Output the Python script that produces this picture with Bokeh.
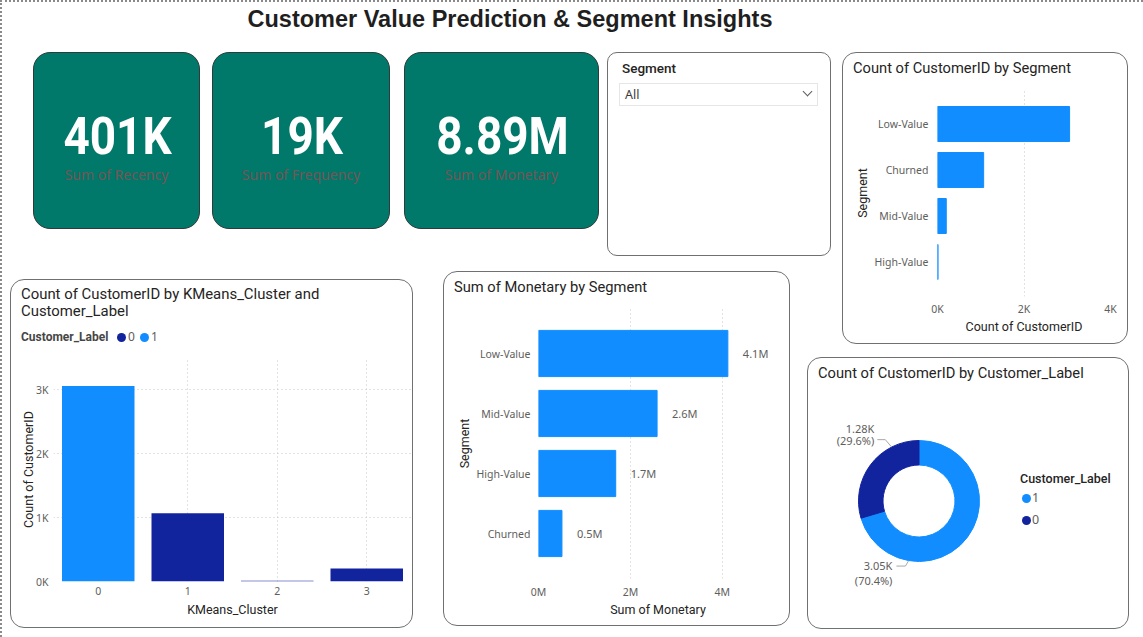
import math
from bokeh.plotting import figure
from bokeh.models import (ColumnDataSource, FactorRange, Range1d, FixedTicker, Div,
                          CustomJSTickFormatter)
from bokeh.layouts import column
from bokeh.embed import file_html
from bokeh.resources import INLINE
from bokeh.core.properties import value

# ---------------- data ----------------
page_title = "Customer Value Prediction & Segment Insights"
kpi_values = ["401K", "19K", "8.89M"]
kpi_labels = ["Sum of Recency", "Sum of Frequency", "Sum of Monetary"]

seg_count_segments = ["Low-Value", "Churned", "Mid-Value", "High-Value"]
seg_count_values = [3054, 1067, 203, 13]
count_ticks = [0, 2000, 4000]

mon_segments = ["Low-Value", "Mid-Value", "High-Value", "Churned"]
mon_values = [4.12e6, 2.58e6, 1.68e6, 0.51e6]
mon_ticks = [0, 2e6, 4e6]

km_clusters = ["0", "1", "2", "3"]
km_label0 = [0, 1067, 13, 203]
km_label1 = [3054, 0, 0, 0]
km_ticks = [0, 1000, 2000, 3000]
km_legend = ["0", "1"]

donut_labels = ["1", "0"]
donut_counts = [3054, 1283]

slicer_field = "Segment"
slicer_value = "All"

# ---------------- styles ----------------
LIGHT = "#118DFF"
DARK = "#12239E"
TEAL = "#00786A"
INK = "#252423"
GRAY = "#605E5C"
GRID = "#C8C6C4"
PANEL_BORDER = "#707070"
F_DIN = "Roboto"
F_UI = "Noto Sans"
F_HEAD = "Liberation Sans"
# all figures share the same side borders (column layouts align plot frames)
BL, BR = 110, 20

children = []


def pos(model, x, y, w, h):
    model.styles = {"position": "absolute", "left": f"{x}px", "top": f"{y}px",
                    "width": f"{w}px", "height": f"{h}px"}
    return model


def box(x, y, w, h, css):
    d = Div(text="", width=w, height=h, margin=0)
    st = {"position": "absolute", "left": f"{x}px", "top": f"{y}px",
          "width": f"{w}px", "height": f"{h}px", "box-sizing": "border-box"}
    st.update(css)
    d.styles = st
    children.append(d)
    return d


def txt(x, yc, s, size, family=F_DIN, weight=400, color=INK, w=320, h=20,
        align="left", extra=""):
    if align == "center":
        left = x - w / 2
    elif align == "right":
        left = x - w
    else:
        left = x
    html = (f'<div style="width:{w}px;font-family:\'{family}\';font-size:{size}px;'
            f'font-weight:{weight};color:{color};line-height:{h}px;height:{h}px;'
            f'white-space:nowrap;text-align:{align};{extra}">{s}</div>')
    d = Div(text=html, width=w, height=h, margin=0)
    d.styles = {"position": "absolute", "left": f"{left}px", "top": f"{yc - h / 2}px",
                "width": f"{w}px", "height": f"{h}px"}
    children.append(d)
    return d


def style_axes(p):
    for ax in p.axis:
        ax.axis_line_color = None
        ax.major_tick_line_color = None
        ax.minor_tick_line_color = None
        ax.major_label_text_font = F_UI
        ax.major_label_text_font_size = "10.5px"
        ax.major_label_text_color = GRAY
        ax.axis_label_text_font = F_DIN
        ax.axis_label_text_font_size = "12.5px"
        ax.axis_label_text_font_style = "normal"
        ax.axis_label_text_color = INK
    p.outline_line_color = None
    p.border_fill_color = None
    p.background_fill_color = None


def panel(x, y, w, h, r=14):
    box(x, y, w, h, {"border": f"1px solid {PANEL_BORDER}", "border-radius": f"{r}px",
                     "background": "white"})


def make_fig(frame_x0, frame_x1, host_y, host_h, top, bottom, **kw):
    w = (frame_x1 - frame_x0) + BL + BR
    p = figure(width=w, height=host_h, output_backend="svg", toolbar_location=None,
               min_border_left=BL, min_border_right=BR, min_border_top=top,
               min_border_bottom=bottom, **kw)
    pos(p, frame_x0 - BL, host_y, w, host_h)
    return p


# ---------------- page frame & title ----------------
box(0, 0, 1143, 640, {"border-top": "2px dotted #8a8a8a", "border-left": "2px dotted #8a8a8a"})
txt(510, 19, page_title, 23.5, family=F_HEAD, weight=700, color="#1f1f1f", w=800, h=30,
    align="center")

# ---------------- KPI cards ----------------
cards = [(33, 52, 167, 177), (212, 52, 178, 177), (404, 52, 195, 177)]
for (cx, cy, cw, ch), v, lab in zip(cards, kpi_values, kpi_labels):
    box(cx, cy, cw, ch, {"background": TEAL, "border": "1px solid #2f3b39",
                         "border-radius": "17px"})
    txt(cx + cw / 2 + 1, cy + 85, v, 51, family=F_DIN, weight=700, color="white",
        w=cw, h=56, align="center",
        extra="transform:scaleX(0.9);transform-origin:50% 50%;")
    txt(cx + cw / 2, cy + 123, lab, 14, family=F_UI, weight=400, color="#735656",
        w=cw, h=20, align="center")

# ---------------- slicer ----------------
panel(607, 52, 224, 204, r=10)
txt(622, 68, slicer_field, 13.5, family=F_DIN, weight=500, color=INK)
box(619, 83, 199, 23, {"border": "1px solid #E6E6E6", "background": "white"})
txt(625, 94.5, slicer_value, 12.5, family=F_UI, weight=400, color="#3b3a39")
box(804, 88, 7, 7, {"border-right": "1px solid #605E5C", "border-bottom": "1px solid #605E5C",
                    "transform": "rotate(45deg)"})

# ---------------- panels (backgrounds) ----------------
panel(842, 52, 286, 292)
panel(10, 279, 403, 349)
panel(443, 271, 347, 355)
panel(807, 357, 322, 272)

# ---------------- Count of CustomerID by Segment ----------------
src1 = ColumnDataSource(dict(seg=seg_count_segments, val=seg_count_values))
p1 = make_fig(937, 1110, 52, 292, 37, 48,
              y_range=FactorRange(factors=seg_count_segments[::-1], range_padding=0.25,
                                  range_padding_units="absolute"),
              x_range=Range1d(0, count_ticks[-1]))
p1.hbar(y="seg", right="val", left=0, height=0.76, color=LIGHT, source=src1)
style_axes(p1)
p1.xaxis.ticker = FixedTicker(ticks=count_ticks)
p1.xaxis.formatter = CustomJSTickFormatter(code="return (tick/1000).toFixed(0) + 'K';")
p1.xaxis.axis_label = "Count of CustomerID"
p1.yaxis.axis_label = "Segment"
p1.xaxis.major_label_standoff = -1
p1.xaxis.axis_label_standoff = 0
p1.yaxis.major_label_standoff = 3
p1.yaxis.axis_label_standoff = 2
p1.ygrid.visible = False
p1.xgrid.grid_line_color = GRID
p1.xgrid.grid_line_dash = "1 3"
children.append(p1)
txt(853, 68, "Count of CustomerID by Segment", 14.7, family=F_DIN, color=INK)

# ---------------- Count by KMeans_Cluster and Customer_Label ----------------
src3 = ColumnDataSource(dict(cl=km_clusters, l0=km_label0, l1=km_label1))
p3 = make_fig(53, 411, 279, 349, 78, 47,
              x_range=FactorRange(factors=km_clusters), y_range=Range1d(0, 3500))
p3.vbar_stack(["l0", "l1"], x="cl", width=0.81, fill_color=[DARK, LIGHT], line_color=None,
              source=src3)
style_axes(p3)
p3.yaxis.ticker = FixedTicker(ticks=km_ticks)
p3.yaxis.formatter = CustomJSTickFormatter(code="return (tick/1000).toFixed(0) + 'K';")
p3.xaxis.axis_label = "KMeans_Cluster"
p3.yaxis.axis_label = "Count of CustomerID"
p3.xaxis.major_label_standoff = -1
p3.xaxis.axis_label_standoff = 4
p3.yaxis.major_label_standoff = -1
p3.yaxis.axis_label_standoff = -3
for g in (p3.xgrid, p3.ygrid):
    g.grid_line_color = GRID
    g.grid_line_dash = "1 3"
children.append(p3)
txt(21, 294, "Count of CustomerID by KMeans_Cluster and", 14.9, family=F_DIN, color=INK, w=390, h=17)
txt(21, 311, "Customer_Label", 14.9, family=F_DIN, color=INK, w=390, h=17)
txt(21, 337, "Customer_Label", 12, family=F_DIN, weight=700, color="#464646", w=120)
for i, (lab, col) in enumerate(zip(km_legend, [DARK, LIGHT])):
    bx = 117 + 23 * i
    box(bx, 333, 9, 9, {"border-radius": "50%", "background": col})
    txt(bx + 11, 337, lab, 12, family=F_UI, color=GRAY, w=20)

# ---------------- Sum of Monetary by Segment ----------------
src2 = ColumnDataSource(dict(seg=mon_segments, val=mon_values,
                             lbl=[f"{v / 1e6:.1f}M" for v in mon_values]))
p2 = make_fig(538, 777, 271, 355, 37, 48,
              y_range=FactorRange(factors=mon_segments[::-1], range_padding=0.25,
                                  range_padding_units="absolute"),
              x_range=Range1d(0, 5.2e6))
p2.hbar(y="seg", right="val", left=0, height=0.77, color=LIGHT, source=src2)
p2.text(x="val", y="seg", text="lbl", x_offset=15, text_align="left", text_baseline="middle",
        text_font=value(F_UI), text_font_size="11px", text_color=GRAY, source=src2)
style_axes(p2)
p2.xaxis.ticker = FixedTicker(ticks=mon_ticks)
p2.xaxis.formatter = CustomJSTickFormatter(code="return (tick/1e6).toFixed(0) + 'M';")
p2.xaxis.axis_label = "Sum of Monetary"
p2.yaxis.axis_label = "Segment"
p2.xaxis.major_label_standoff = 0
p2.xaxis.axis_label_standoff = 0
p2.yaxis.major_label_standoff = 2
p2.yaxis.axis_label_standoff = 2
p2.ygrid.visible = False
p2.xgrid.grid_line_color = GRID
p2.xgrid.grid_line_dash = "1 3"
children.append(p2)
txt(454, 287, "Sum of Monetary by Segment", 14.7, family=F_DIN, color=INK)

# ---------------- Donut ----------------
total = sum(donut_counts)
cum = [0]
for c in donut_counts:
    cum.append(cum[-1] + c)
starts = [math.pi / 2 - 2 * math.pi * cum[i] / total for i in range(len(donut_counts))]
ends = [math.pi / 2 - 2 * math.pi * cum[i + 1] / total for i in range(len(donut_counts))]
src4 = ColumnDataSource(dict(lab=donut_labels, cnt=donut_counts, s=starts, e=ends,
                             col=[LIGHT, DARK]))
p4 = make_fig(808, 1010, 400, 200, 0, 0,
              x_range=Range1d(-110.5, 91.5), y_range=Range1d(-99.5, 100.5),
              x_axis_location=None, y_axis_location=None)
p4.annular_wedge(x=0, y=0, inner_radius=36, outer_radius=60.5, start_angle="s", end_angle="e",
                 direction="clock", color="col", source=src4)
# outside labels (anchor angle / leader geometry are styling)
anchor_deg = [260, 117]
elbow = [(-3, -5), (-6, 7)]
arm = [9, 8]
text_dx = [-4, -3]
line1_dy = [1, 11]
line2_dy = [-14, -1]
lx, ly, t1, t2, t1y, t2y = [], [], [], [], [], []
for i, c in enumerate(donut_counts):
    a = math.radians(anchor_deg[i])
    ax_, ay_ = 61 * math.cos(a), 61 * math.sin(a)
    ex, ey = ax_ + elbow[i][0], ay_ + elbow[i][1]
    hx = ex - arm[i]
    lx.append([ax_, ex, hx])
    ly.append([ay_, ey, ey])
    t1.append(f"{c / 1000:.2f}K")
    t2.append(f"({100 * c / total:.1f}%)")
    t1y.append(ey + line1_dy[i])
    t2y.append(ey + line2_dy[i])
tx = [lx[i][2] + text_dx[i] for i in range(len(donut_counts))]
p4.multi_line(xs=lx, ys=ly, line_color="#A8A8A8", line_width=1)
p4.text(x=tx, y=t1y, text=t1, text_align="right", text_baseline="middle",
        text_font=value(F_UI), text_font_size="11px", text_color=GRAY)
p4.text(x=tx, y=t2y, text=t2, text_align="right", text_baseline="middle",
        text_font=value(F_UI), text_font_size="11px", text_color=GRAY)
p4.xgrid.visible = False
p4.ygrid.visible = False
p4.outline_line_color = None
p4.border_fill_color = None
p4.background_fill_color = None
children.append(p4)
txt(818, 373, "Count of CustomerID by Customer_Label", 14.7, family=F_DIN, color=INK)
txt(1020, 479, "Customer_Label", 12.5, family=F_DIN, weight=500, color=INK, w=110)
for i, lab in enumerate(donut_labels):
    yc = 498 + 22 * i
    box(1022, yc - 4.5, 9, 9, {"border-radius": "50%", "background": [LIGHT, DARK][i]})
    txt(1032, yc, lab, 12.5, family=F_UI, color=GRAY, w=20)

root = column(*children, width=1143, height=637)
root.styles = {"position": "relative"}

open("out.html", "w").write(file_html(root, INLINE))
